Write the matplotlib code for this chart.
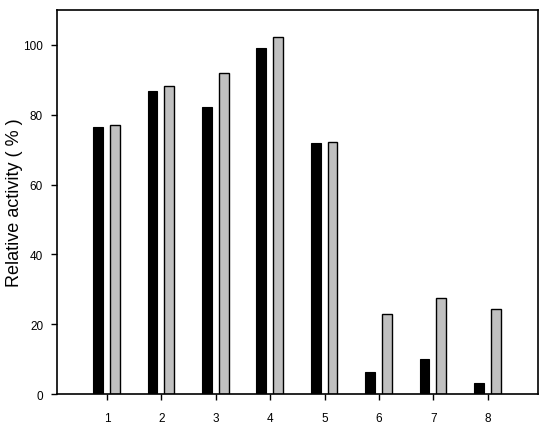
import numpy as np
import matplotlib.pyplot as plt

plt.rcParams['font.family'] = ['Liberation Sans', 'DejaVu Sans']

samples = [1, 2, 3, 4, 5, 6, 7, 8]
black_vals = [76.6, 86.7, 82.1, 99.1, 71.9, 6.4, 9.9, 3.1]
gray_vals = [77.0, 88.1, 92.0, 102.3, 72.3, 22.9, 27.5, 24.4]
yticks = [0, 20, 40, 60, 80, 100]

fig = plt.figure(figsize=(5.5, 4.31), dpi=100)
ax = fig.add_axes([0.1036, 0.0835, 0.8744, 0.891])

x = np.array(samples)
w = 0.18
ax.bar(x - 0.165, black_vals, width=w, color='black', edgecolor='black', linewidth=0.8)
ax.bar(x + 0.145, gray_vals, width=w, color='#c0c0c0', edgecolor='black', linewidth=1.0)

ax.set_xlim(0.08, 8.92)
ax.set_ylim(0, 110)
ax.set_xticks(samples)
ax.set_yticks(yticks)
ax.tick_params(axis='both', direction='out', length=4, width=1, labelsize=8.5, pad=6)
ax.tick_params(axis='x', pad=9)
for s in ax.spines.values():
    s.set_linewidth(1.2)

ax.set_ylabel('Relative activity ( % )', fontsize=13)
ax.yaxis.set_label_coords(-0.071, 0.5)

fig.savefig('out.png', dpi=100)
